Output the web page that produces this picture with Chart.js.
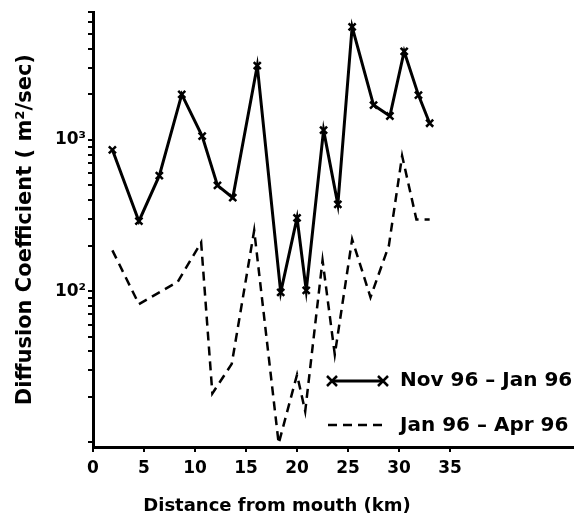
<!DOCTYPE html>
<html>
  <head>
    <title>Diffusion Coefficient</title>
    <script src="https://cdn.jsdelivr.net/npm/chart.js@4.4.1/dist/chart.umd.min.js"></script>
    <style>
      body {
        margin: 0;
        background: #fff;
      }

      .container {
        width: 580px;
        height: 522px;
      }
    </style>
  </head>
  <body>
    <div class="container">
      <canvas id="diffusion-chart" width="580" height="522"></canvas>
    </div>

    <script>
      // distance from mouth (km) and diffusion coefficient (m2/sec)
      const distanceNovJan = [1.9, 4.5, 6.5, 8.7, 10.7, 12.2, 13.7, 16.1, 18.4, 20.0, 20.9, 22.6, 24.0, 25.4, 27.5, 29.1, 30.5, 31.9, 33.0];
      const novJan = [860, 290, 580, 2000, 1060, 500, 415, 3100, 98, 305, 101, 1160, 375, 5600, 1700, 1440, 3850, 1980, 1290];

      const distanceJanApr = [1.9, 4.5, 8.3, 10.6, 11.7, 13.6, 15.8, 18.2, 20.0, 20.8, 22.5, 23.7, 25.4, 27.2, 29.0, 30.3, 31.7, 33.0];
      const janApr = [186, 82, 115, 210, 21, 33, 252, 9.8, 28, 16, 160, 38, 220, 91, 200, 785, 298, 298];

      const xTicks = [0, 5, 10, 15, 20, 25, 30, 35];
      const yTicks = [10, 20, 30, 40, 50, 60, 70, 80, 90, 100, 200, 300, 400, 500, 600, 700, 800, 900, 1000, 2000, 3000, 4000, 5000, 6000, 7000];
      const yLabels = { 100: "10²", 1000: "10³" };

      const legendItems = ["Nov 96 – Jan 96", "Jan 96 – Apr 96"];
      const xTitle = "Distance from mouth (km)";
      const yTitle = "Diffusion Coefficient ( m²/sec)";

      const fontFamily = "'DejaVu Sans', sans-serif";

      function toPoints(xs, ys) {
        return xs.map((x, i) => ({ x: x, y: ys[i] }));
      }

      // legend and x title drawn inside the plot like the original figure
      const paperLegend = {
        id: "paperLegend",
        afterDraw(chart) {
          const ctx = chart.ctx;
          ctx.save();
          ctx.fillStyle = "#000";
          ctx.strokeStyle = "#000";
          ctx.font = "bold 20px " + fontFamily;
          ctx.textBaseline = "middle";

          // solid line with x markers
          ctx.lineWidth = 3;
          ctx.beginPath();
          ctx.moveTo(332, 381);
          ctx.lineTo(383, 381);
          ctx.stroke();
          ctx.lineWidth = 2.5;
          [332, 383].forEach((mx) => {
            ctx.beginPath();
            ctx.moveTo(mx - 5, 376);
            ctx.lineTo(mx + 5, 386);
            ctx.moveTo(mx + 5, 376);
            ctx.lineTo(mx - 5, 386);
            ctx.stroke();
          });
          ctx.fillText(legendItems[0], 400, 381);

          // dashed line
          ctx.lineWidth = 2.5;
          ctx.setLineDash([9, 6]);
          ctx.beginPath();
          ctx.moveTo(328, 425);
          ctx.lineTo(383, 425);
          ctx.stroke();
          ctx.setLineDash([]);
          ctx.fillText(legendItems[1], 400, 426);

          ctx.font = "bold 18px " + fontFamily;
          ctx.textAlign = "center";
          ctx.fillText(xTitle, 277, 506);
          ctx.restore();
        },
      };

      new Chart("diffusion-chart", {
        type: "line",
        data: {
          datasets: [
            {
              data: toPoints(distanceNovJan, novJan),
              borderColor: "#000",
              borderWidth: 3,
              pointStyle: "crossRot",
              pointRadius: 5,
              pointBorderWidth: 2.5,
              pointBorderColor: "#000",
              tension: 0,
            },
            {
              data: toPoints(distanceJanApr, janApr),
              borderColor: "#000",
              borderWidth: 2.5,
              borderDash: [9, 6],
              pointRadius: 0,
              tension: 0,
            },
          ],
        },
        options: {
          responsive: false,
          animation: false,
          layout: { padding: { top: 10, right: 5, left: 0, bottom: 0 } },
          plugins: {
            legend: { display: false },
            tooltip: { enabled: false },
          },
          scales: {
            x: {
              type: "linear",
              min: 0,
              max: 47,
              afterBuildTicks: (scale) => {
                scale.ticks = xTicks.map((v) => ({ value: v }));
              },
              afterFit: (scale) => {
                scale.height = 75;
              },
              border: { color: "#000", width: 3 },
              grid: { drawOnChartArea: false, color: "#000", lineWidth: 2, tickLength: 5 },
              ticks: {
                color: "#000",
                padding: 6,
                maxRotation: 0,
                autoSkip: false,
                font: { family: fontFamily, size: 17, weight: "bold" },
              },
            },
            y: {
              type: "logarithmic",
              min: 9.3,
              max: 7000,
              afterBuildTicks: (scale) => {
                scale.ticks = yTicks.map((v) => ({ value: v }));
              },
              afterFit: (scale) => {
                scale.width = 93;
              },
              border: { color: "#000", width: 3 },
              grid: { drawOnChartArea: false, color: "#000", lineWidth: 2, tickLength: 5 },
              ticks: {
                color: "#000",
                padding: 2,
                autoSkip: false,
                font: { family: fontFamily, size: 17, weight: "bold" },
                callback: (value) => yLabels[value] || "",
              },
              title: {
                display: true,
                text: yTitle,
                color: "#000",
                padding: { top: 13, bottom: 0 },
                font: { family: fontFamily, size: 21, weight: "bold" },
              },
            },
          },
        },
        plugins: [paperLegend],
      });
    </script>
  </body>
</html>
